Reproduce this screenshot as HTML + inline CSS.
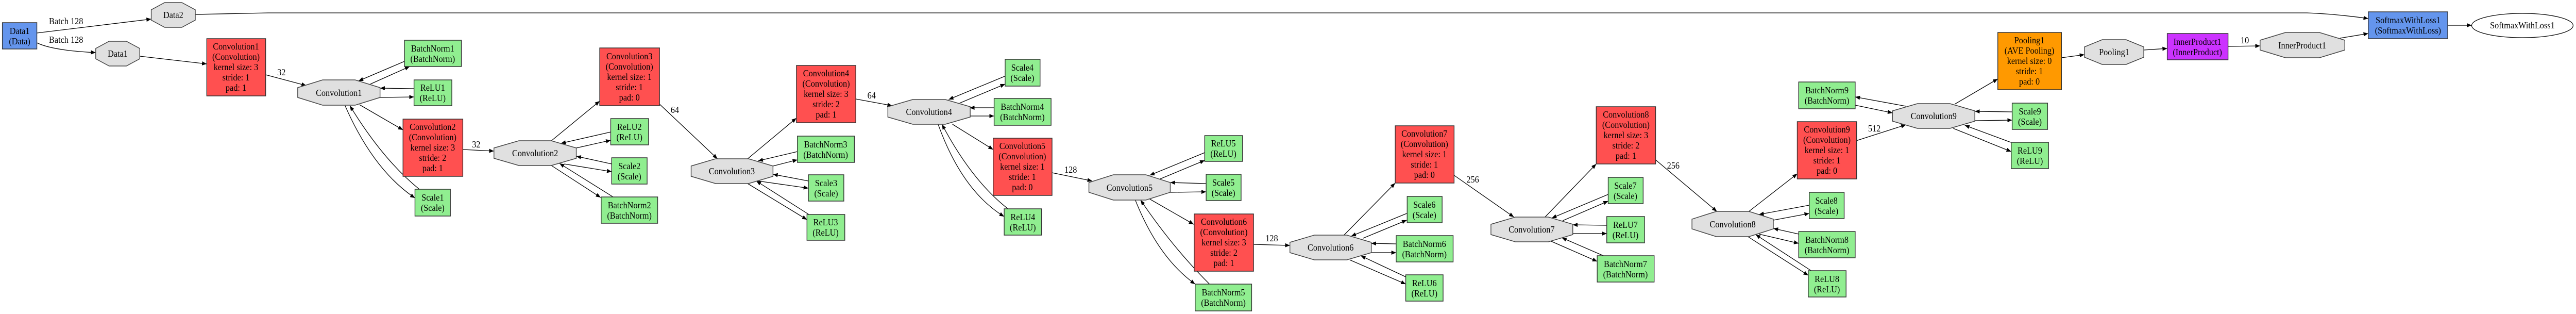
<!DOCTYPE html>
<html><head><meta charset="utf-8"><style>
html,body{margin:0;padding:0;background:#fff;width:100%;height:100%;overflow:hidden}
svg{display:block;width:100vw;height:100vh}
text{font-family:"Liberation Serif",serif;font-size:17.5px;fill:#000;text-anchor:middle}
.r{fill:#FF5050;stroke:#333;stroke-width:1.5}
.g{fill:#90EE90;stroke:#333;stroke-width:1.5}
.bl{fill:#6495ED;stroke:#333;stroke-width:1.5}
.o{fill:#FF9900;stroke:#333;stroke-width:1.5}
.p{fill:#CC33FF;stroke:#333;stroke-width:1.5}
.oc{fill:#E0E0E0;stroke:#444;stroke-width:1.5}
.e{fill:none;stroke:#000;stroke-width:1.3;marker-end:url(#a)}
</style></head><body>
<svg viewBox="0 0 5382 609" preserveAspectRatio="none" xmlns="http://www.w3.org/2000/svg">
<defs><marker id="a" viewBox="0 0 10 8" refX="10" refY="4" markerWidth="10" markerHeight="8" markerUnits="userSpaceOnUse" orient="auto"><path d="M0,0 L10,4 L0,8 z" fill="#000"/></marker></defs>

<path class="e" d="M77,64 L316,37"/>
<path class="e" d="M77,83 Q110,98 200,102"/>
<path class="e" d="M408,28 L560,25 L4820,25 Q4880,27 4948,36"/>
<path class="e" d="M292,109 L432,124"/>
<path class="e" d="M555,145 L640,166"/>
<path class="e" d="M845,119 L749,157"/>
<path class="e" d="M774,163 L856,129"/>
<path class="e" d="M865,172 L794,171"/>
<path class="e" d="M794,189 L865,188"/>
<path class="e" d="M751,203 L842,252"/>
<path class="e" d="M721,205 Q780,330 867,384"/>
<path class="e" d="M876,367 Q800,310 731,205"/>
<path class="e" d="M967,290 L1032,293"/>
<path class="e" d="M1152,273 L1253,196"/>
<path class="e" d="M1276,256 L1172,278"/>
<path class="e" d="M1204,287 L1276,272"/>
<path class="e" d="M1278,318 L1204,303"/>
<path class="e" d="M1179,318 L1278,333"/>
<path class="e" d="M1152,321 L1255,383"/>
<path class="e" d="M1281,382 L1169,317"/>
<path class="e" d="M1378,202 L1499,308"/>
<path class="e" d="M1562,308 L1664,229"/>
<path class="e" d="M1666,294 L1584,312"/>
<path class="e" d="M1615,322 L1666,310"/>
<path class="e" d="M1689,351 L1615,338"/>
<path class="e" d="M1584,351 L1689,365"/>
<path class="e" d="M1562,356 L1686,426"/>
<path class="e" d="M1690,416 L1580,351"/>
<path class="e" d="M1788,192 L1864,205"/>
<path class="e" d="M2099,148 L1982,193"/>
<path class="e" d="M2005,200 L2100,163"/>
<path class="e" d="M2077,209 L2026,209"/>
<path class="e" d="M2026,225 L2077,225"/>
<path class="e" d="M1990,241 L2075,290"/>
<path class="e" d="M1960,241 Q2010,370 2098,420"/>
<path class="e" d="M2106,405 Q2030,350 1968,241"/>
<path class="e" d="M2198,335 L2282,351"/>
<path class="e" d="M2517,296 L2402,340"/>
<path class="e" d="M2424,347 L2517,311"/>
<path class="e" d="M2520,356 L2445,354"/>
<path class="e" d="M2445,373 L2520,372"/>
<path class="e" d="M2402,386 L2494,435"/>
<path class="e" d="M2372,388 Q2420,500 2497,551"/>
<path class="e" d="M2527,551 Q2450,480 2383,388"/>
<path class="e" d="M2619,474 L2695,476"/>
<path class="e" d="M2808,456 L2915,355"/>
<path class="e" d="M2939,414 L2823,458"/>
<path class="e" d="M2848,462 L2939,427"/>
<path class="e" d="M2917,473 L2865,472"/>
<path class="e" d="M2865,490 L2917,490"/>
<path class="e" d="M2820,504 L2937,551"/>
<path class="e" d="M2937,537 L2843,496"/>
<path class="e" d="M3038,340 L3163,421"/>
<path class="e" d="M3228,421 L3335,318"/>
<path class="e" d="M3360,377 L3242,423"/>
<path class="e" d="M3265,428 L3360,390"/>
<path class="e" d="M3357,437 L3286,436"/>
<path class="e" d="M3286,453 L3357,453"/>
<path class="e" d="M3241,468 L3337,507"/>
<path class="e" d="M3350,496 L3263,461"/>
<path class="e" d="M3459,310 L3587,410"/>
<path class="e" d="M3654,410 L3755,337"/>
<path class="e" d="M3780,398 L3675,416"/>
<path class="e" d="M3705,427 L3780,414"/>
<path class="e" d="M3758,454 L3705,443"/>
<path class="e" d="M3675,454 L3758,472"/>
<path class="e" d="M3652,459 L3778,534"/>
<path class="e" d="M3784,525 L3668,455"/>
<path class="e" d="M3878,273 L3982,242"/>
<path class="e" d="M3982,206 L3876,188"/>
<path class="e" d="M3876,204 L3954,219"/>
<path class="e" d="M4084,202 L4174,153"/>
<path class="e" d="M4204,217 L4126,216"/>
<path class="e" d="M4126,234 L4204,233"/>
<path class="e" d="M4081,249 L4202,294"/>
<path class="e" d="M4201,276 L4105,243"/>
<path class="e" d="M4307,112 L4355,106"/>
<path class="e" d="M4479,97 L4528,94"/>
<path class="e" d="M4655,90 L4722,89"/>
<path class="e" d="M4889,74 L4948,65"/>
<path class="e" d="M5114,49 L5164,49"/>

<text x="138" y="47">Batch 128</text>
<text x="138" y="83">Batch 128</text>
<text x="588" y="146">32</text>
<text x="995" y="286">32</text>
<text x="1410" y="219">64</text>
<text x="1821" y="191">64</text>
<text x="2237" y="335">128</text>
<text x="2657" y="468">128</text>
<text x="3077" y="354">256</text>
<text x="3496" y="327">256</text>
<text x="3916" y="255">512</text>
<text x="4690" y="84">10</text>

<polygon class="oc" points="344,5 380,5 408,19 408,39 380,53 344,53 316,39 316,19"/><text x="362" y="35">Data2</text>
<polygon class="oc" points="228,80 264,80 292,94 292,114 264,128 228,128 200,114 200,94"/><text x="246" y="110">Data1</text>
<polygon class="oc" points="674,155 742,155 794,170 794,189 742,204 674,204 622,189 622,170"/><text x="708" y="186">Convolution1</text>
<polygon class="oc" points="1084,273 1152,273 1204,287 1204,307 1152,321 1084,321 1032,307 1032,287"/><text x="1118" y="303">Convolution2</text>
<polygon class="oc" points="1495,308 1564,308 1615,322 1615,342 1564,356 1495,356 1444,342 1444,322"/><text x="1529" y="338">Convolution3</text>
<polygon class="oc" points="1907,193 1975,193 2027,207 2027,227 1975,241 1907,241 1855,227 1855,207"/><text x="1941" y="223">Convolution4</text>
<polygon class="oc" points="2326,339 2394,339 2445,354 2445,373 2394,388 2326,388 2275,373 2275,354"/><text x="2360" y="370">Convolution5</text>
<polygon class="oc" points="2746,456 2814,456 2865,470 2865,490 2814,504 2746,504 2695,490 2695,470"/><text x="2780" y="486">Convolution6</text>
<polygon class="oc" points="3166,421 3235,421 3286,435 3286,455 3235,469 3166,469 3115,455 3115,435"/><text x="3200" y="451">Convolution7</text>
<polygon class="oc" points="3586,410 3654,410 3705,425 3705,444 3654,459 3586,459 3535,444 3535,425"/><text x="3620" y="441">Convolution8</text>
<polygon class="oc" points="4006,201 4074,201 4126,215 4126,235 4074,249 4006,249 3954,235 3954,215"/><text x="4040" y="231">Convolution9</text>
<polygon class="oc" points="4392,77 4442,77 4479,91 4479,111 4442,125 4392,125 4355,111 4355,91"/><text x="4417" y="107">Pooling1</text>
<polygon class="oc" points="4775,63 4846,63 4899,78 4899,97 4846,112 4775,112 4722,97 4722,78"/><text x="4810" y="94">InnerProduct1</text>
<ellipse cx="5270" cy="49.5" rx="106" ry="23.5" fill="#fff" stroke="#000" stroke-width="1.3"/><text x="5270" y="55">SoftmaxWithLoss1</text>

<rect class="bl" x="5" y="44" width="72" height="51"/><text x="41" y="66">Data1</text><text x="41" y="86">(Data)</text>
<rect class="bl" x="4948" y="23" width="166" height="52"/><text x="5031" y="45">SoftmaxWithLoss1</text><text x="5031" y="65">(SoftmaxWithLoss)</text>
<rect class="p" x="4528" y="65" width="127" height="51"/><text x="4591" y="87">InnerProduct1</text><text x="4591" y="107">(InnerProduct)</text>

<rect class="g" x="845" y="78" width="119" height="51"/><text x="904" y="100">BatchNorm1</text><text x="904" y="120">(BatchNorm)</text>
<rect class="g" x="865" y="155" width="79" height="50"/><text x="904" y="176">ReLU1</text><text x="904" y="196">(ReLU)</text>
<rect class="g" x="867" y="367" width="74" height="52"/><text x="904" y="389">Scale1</text><text x="904" y="409">(Scale)</text>
<rect class="g" x="1276" y="230" width="79" height="51"/><text x="1315" y="252">ReLU2</text><text x="1315" y="272">(ReLU)</text>
<rect class="g" x="1278" y="306" width="74" height="51"/><text x="1315" y="328">Scale2</text><text x="1315" y="348">(Scale)</text>
<rect class="g" x="1256" y="382" width="118" height="51"/><text x="1315" y="404">BatchNorm2</text><text x="1315" y="424">(BatchNorm)</text>
<rect class="g" x="1666" y="264" width="119" height="51"/><text x="1725" y="286">BatchNorm3</text><text x="1725" y="306">(BatchNorm)</text>
<rect class="g" x="1689" y="339" width="74" height="51"/><text x="1726" y="361">Scale3</text><text x="1726" y="381">(Scale)</text>
<rect class="g" x="1686" y="416" width="79" height="50"/><text x="1725" y="437">ReLU3</text><text x="1725" y="457">(ReLU)</text>
<rect class="g" x="2100" y="115" width="73" height="52"/><text x="2136" y="137">Scale4</text><text x="2136" y="157">(Scale)</text>
<rect class="g" x="2077" y="191" width="119" height="52"/><text x="2136" y="213">BatchNorm4</text><text x="2136" y="233">(BatchNorm)</text>
<rect class="g" x="2098" y="405" width="78" height="51"/><text x="2137" y="427">ReLU4</text><text x="2137" y="447">(ReLU)</text>
<rect class="g" x="2517" y="263" width="79" height="50"/><text x="2556" y="284">ReLU5</text><text x="2556" y="304">(ReLU)</text>
<rect class="g" x="2520" y="338" width="73" height="51"/><text x="2556" y="360">Scale5</text><text x="2556" y="380">(Scale)</text>
<rect class="g" x="2497" y="551" width="118" height="52"/><text x="2556" y="573">BatchNorm5</text><text x="2556" y="593">(BatchNorm)</text>
<rect class="g" x="2940" y="381" width="73" height="51"/><text x="2976" y="403">Scale6</text><text x="2976" y="423">(Scale)</text>
<rect class="g" x="2917" y="457" width="119" height="51"/><text x="2976" y="479">BatchNorm6</text><text x="2976" y="499">(BatchNorm)</text>
<rect class="g" x="2937" y="533" width="78" height="51"/><text x="2976" y="555">ReLU6</text><text x="2976" y="575">(ReLU)</text>
<rect class="g" x="3360" y="344" width="73" height="51"/><text x="3396" y="366">Scale7</text><text x="3396" y="386">(Scale)</text>
<rect class="g" x="3357" y="420" width="79" height="51"/><text x="3396" y="442">ReLU7</text><text x="3396" y="462">(ReLU)</text>
<rect class="g" x="3337" y="496" width="119" height="51"/><text x="3396" y="518">BatchNorm7</text><text x="3396" y="538">(BatchNorm)</text>
<rect class="g" x="3758" y="159" width="118" height="52"/><text x="3817" y="181">BatchNorm9</text><text x="3817" y="201">(BatchNorm)</text>
<rect class="g" x="3780" y="373" width="73" height="51"/><text x="3816" y="395">Scale8</text><text x="3816" y="415">(Scale)</text>
<rect class="g" x="3758" y="449" width="118" height="51"/><text x="3817" y="471">BatchNorm8</text><text x="3817" y="491">(BatchNorm)</text>
<rect class="g" x="3778" y="525" width="79" height="51"/><text x="3817" y="547">ReLU8</text><text x="3817" y="567">(ReLU)</text>
<rect class="g" x="4204" y="200" width="74" height="51"/><text x="4241" y="222">Scale9</text><text x="4241" y="242">(Scale)</text>
<rect class="g" x="4202" y="276" width="78" height="51"/><text x="4241" y="298">ReLU9</text><text x="4241" y="318">(ReLU)</text>

<rect class="r" x="432" y="75" width="123" height="111"/><text x="493" y="96">Convolution1</text><text x="493" y="116">(Convolution)</text><text x="493" y="136">kernel size: 3</text><text x="493" y="156">stride: 1</text><text x="493" y="176">pad: 1</text>
<rect class="r" x="842" y="231" width="125" height="111"/><text x="904" y="252">Convolution2</text><text x="904" y="272">(Convolution)</text><text x="904" y="292">kernel size: 3</text><text x="904" y="312">stride: 2</text><text x="904" y="332">pad: 1</text>
<rect class="r" x="1253" y="93" width="125" height="112"/><text x="1315" y="115">Convolution3</text><text x="1315" y="135">(Convolution)</text><text x="1315" y="155">kernel size: 1</text><text x="1315" y="175">stride: 1</text><text x="1315" y="195">pad: 0</text>
<rect class="r" x="1664" y="127" width="124" height="111"/><text x="1726" y="148">Convolution4</text><text x="1726" y="168">(Convolution)</text><text x="1726" y="188">kernel size: 3</text><text x="1726" y="208">stride: 2</text><text x="1726" y="228">pad: 1</text>
<rect class="r" x="2075" y="268" width="123" height="111"/><text x="2136" y="289">Convolution5</text><text x="2136" y="309">(Convolution)</text><text x="2136" y="329">kernel size: 1</text><text x="2136" y="349">stride: 1</text><text x="2136" y="369">pad: 0</text>
<rect class="r" x="2495" y="415" width="124" height="111"/><text x="2557" y="436">Convolution6</text><text x="2557" y="456">(Convolution)</text><text x="2557" y="476">kernel size: 3</text><text x="2557" y="496">stride: 2</text><text x="2557" y="516">pad: 1</text>
<rect class="r" x="2915" y="244" width="123" height="111"/><text x="2976" y="265">Convolution7</text><text x="2976" y="285">(Convolution)</text><text x="2976" y="305">kernel size: 1</text><text x="2976" y="325">stride: 1</text><text x="2976" y="345">pad: 0</text>
<rect class="r" x="3335" y="207" width="124" height="111"/><text x="3397" y="228">Convolution8</text><text x="3397" y="248">(Convolution)</text><text x="3397" y="268">kernel size: 3</text><text x="3397" y="288">stride: 2</text><text x="3397" y="308">pad: 1</text>
<rect class="r" x="3755" y="236" width="124" height="111"/><text x="3817" y="257">Convolution9</text><text x="3817" y="277">(Convolution)</text><text x="3817" y="297">kernel size: 1</text><text x="3817" y="317">stride: 1</text><text x="3817" y="337">pad: 0</text>
<rect class="o" x="4174" y="63" width="133" height="111"/><text x="4240" y="84">Pooling1</text><text x="4240" y="104">(AVE Pooling)</text><text x="4240" y="124">kernel size: 0</text><text x="4240" y="144">stride: 1</text><text x="4240" y="164">pad: 0</text>
</svg>
</body></html>
